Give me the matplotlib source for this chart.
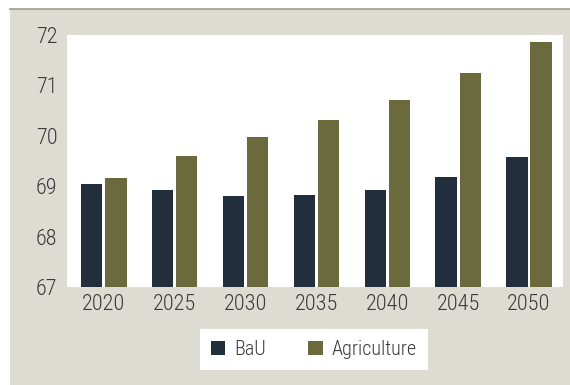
import matplotlib.pyplot as plt
import numpy as np

years = ['2020', '2025', '2030', '2035', '2040', '2045', '2050']
bau = [69.04, 68.92, 68.80, 68.83, 68.92, 69.18, 69.58]
agriculture = [69.16, 69.60, 69.97, 70.31, 70.71, 71.25, 71.86]

navy = '#212f3d'
olive = '#6a6a3d'
beige = '#dedcd2'
text_col = '#3a3a3a'

plt.rcParams['font.family'] = ['Roboto Condensed', 'Liberation Sans', 'DejaVu Sans']
plt.rcParams['font.weight'] = 300

fig = plt.figure(figsize=(5.7, 3.85), dpi=100)
fig.patch.set_facecolor('white')

# beige panel with a grey rule along the top
bg = fig.add_axes([10/570, 0, 560/570, 1 - 9/385], zorder=-1)
bg.set_facecolor(beige)
bg.set_xticks([])
bg.set_yticks([])
for s in bg.spines.values():
    s.set_visible(False)
bg.spines['top'].set_visible(True)
bg.spines['top'].set_color('#9c9c8e')
bg.spines['top'].set_linewidth(1.2)

ax = fig.add_axes([67/570, 1 - 287/385, 496/570, 252/385])
ax.set_facecolor('white')

x = np.arange(len(years))
w = 0.3
ax.bar(x - 0.17, [v - 67 for v in bau], w, bottom=67, color=navy, label='BaU')
ax.bar(x + 0.17, [v - 67 for v in agriculture], w, bottom=67, color=olive, label='Agriculture')

ax.set_xlim(-0.52, 6.48)
ax.set_ylim(67, 72)
ax.set_yticks(range(67, 73))
ax.set_xticks(x)
ax.set_xticklabels(years)
ax.tick_params(length=0, labelsize=16, colors=text_col, pad=5)
ax.tick_params(axis='y', pad=7)
for s in ax.spines.values():
    s.set_visible(False)

leg = fig.legend(loc='center', bbox_to_anchor=(314/570, 1 - 349.5/385), ncol=2,
                 frameon=True, fancybox=False, fontsize=14.5, handlelength=0.7,
                 handleheight=0.7, columnspacing=2.1, borderpad=0.55, handletextpad=0.45,
                 labelcolor=text_col, framealpha=1)
leg.get_frame().set_facecolor('white')
leg.get_frame().set_edgecolor('white')
leg.get_frame().set_linewidth(0)

fig.savefig('out.png', dpi=100, facecolor=fig.get_facecolor())
